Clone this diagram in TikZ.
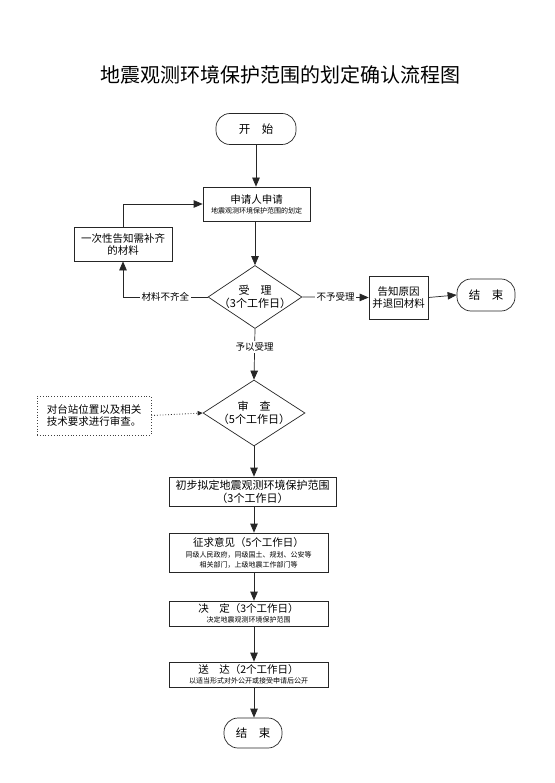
\documentclass[tikz,border=0pt]{standalone}
\usepackage{fontspec}
\setmainfont{Noto Sans CJK SC}
\usetikzlibrary{arrows.meta,shapes.geometric}
\newcommand\mtxt{\fontsize{10.5}{12}\selectfont}
\newcommand\stxt{\fontsize{7}{9}\selectfont}
\begin{document}
\begin{tikzpicture}[x=1pt,y=-1pt,
  bx/.style={draw=black!85, line width=0.7pt, fill=white, inner sep=0pt, align=center, font=\mtxt},
  term/.style={bx, rounded corners=14pt, font=\fontsize{11.5}{13}\selectfont},
  dia/.style={diamond, draw=black!85, line width=0.7pt, fill=white, inner sep=0pt},
  arr/.style={draw=black!85, line width=0.7pt, -{Triangle[length=9pt,width=7.5pt]}},
  darr/.style={draw=black!85, line width=0.8pt, dotted, -{Triangle[length=5pt,width=4.5pt]}},
  lbl/.style={fill=white, inner sep=1.5pt, font=\fontsize{9.5}{11}\selectfont},
  dtxt/.style={align=center, font=\fontsize{11}{12.5}\selectfont, inner sep=0pt}]
\useasboundingbox (0,0) rectangle (554,783);
\fill[white] (0,0) rectangle (554,783);

\node[font=\fontsize{20}{24}\selectfont] (title) at (280,75) {地震观测环境保护范围的划定确认流程图};

\node[term, minimum width=80pt, minimum height=31pt] (start) at (256,129) {开　始};
\node[bx, minimum width=107pt, minimum height=34pt] (apply) at (256.5,204) {申请人申请\\[-2pt]{\stxt 地震观测环境保护范围的划定}};
\node[bx, minimum width=98pt, minimum height=34pt] (notify) at (123,244) {一次性告知需补齐\\的材料};
\node[dia, minimum width=94pt, minimum height=63pt] (d1) at (255,297) {};
\node[dtxt] (d1t) at (d1) {受　理\\（3个工作日）};
\node[bx, minimum width=59pt, minimum height=43pt] (reason) at (398.5,297.5) {告知原因\\并退回材料};
\node[term, minimum width=58pt, minimum height=32pt] (end1) at (486,295) {结　束};

\node[dia, minimum width=102pt, minimum height=66pt] (d2) at (254,413) {};
\node[dtxt] (d2t) at (d2) {审　查\\（5个工作日）};
\node[draw=black!75, line width=0.8pt, dotted, inner sep=0pt, minimum width=114pt, minimum height=39pt, align=left, font=\mtxt] (check) at (94,415.5) {对台站位置以及相关\\技术要求进行审查。};

\node[bx, minimum width=167pt, minimum height=29pt, font=\fontsize{11}{13}\selectfont] (draft) at (252.5,491.5) {初步拟定地震观测环境保护范围\\（3个工作日）};
\node[bx, minimum width=159pt, minimum height=39pt] (solicit) at (248.5,552.5) {征求意见（5个工作日）\\[-1pt]{\stxt 同级人民政府，同级国土、规划、公安等}\\[-2pt]{\stxt 相关部门，上级地震工作部门等}};
\node[bx, minimum width=159pt, minimum height=25pt] (decide) at (248.5,613.5) {决　定（3个工作日）\\[-2pt]{\stxt 决定地震观测环境保护范围}};
\node[bx, minimum width=159pt, minimum height=25pt] (deliver) at (248.5,674.5) {送　达（2个工作日）\\[-2pt]{\stxt 以适当形式对外公开或接受申请后公开}};
\node[term, minimum width=58pt, minimum height=30pt] (end2) at (253,733) {结　束};

\draw[arr] (start.south) -- (start.south |- apply.north);
\draw[arr] (apply.south -| d1.north) -- (d1.north);
\draw[arr] (d1.west) -- node[lbl]{材料不齐全} (d1.west -| notify.south) -- (notify.south);
\draw[arr] (notify.north) |- (apply.west);
\draw[arr] (d1.east) -- node[lbl]{不予受理} (reason.west);
\draw[arr] (reason.east) -- (end1.west);
\draw[arr] (d1.south) -- node[lbl, pos=0.35]{予以受理} (d2.north);
\draw[darr] (check.east) -- (d2.west);
\draw[arr] (d2.south) -- (d2.south |- draft.north);
\draw[arr] (draft.south -| d2.south) -- (solicit.north -| d2.south);
\draw[arr] (solicit.south -| d2.south) -- (decide.north -| d2.south);
\draw[arr] (decide.south -| d2.south) -- (deliver.north -| d2.south);
\draw[arr] (deliver.south -| d2.south) -- (end2.north -| d2.south);
\end{tikzpicture}
\end{document}
